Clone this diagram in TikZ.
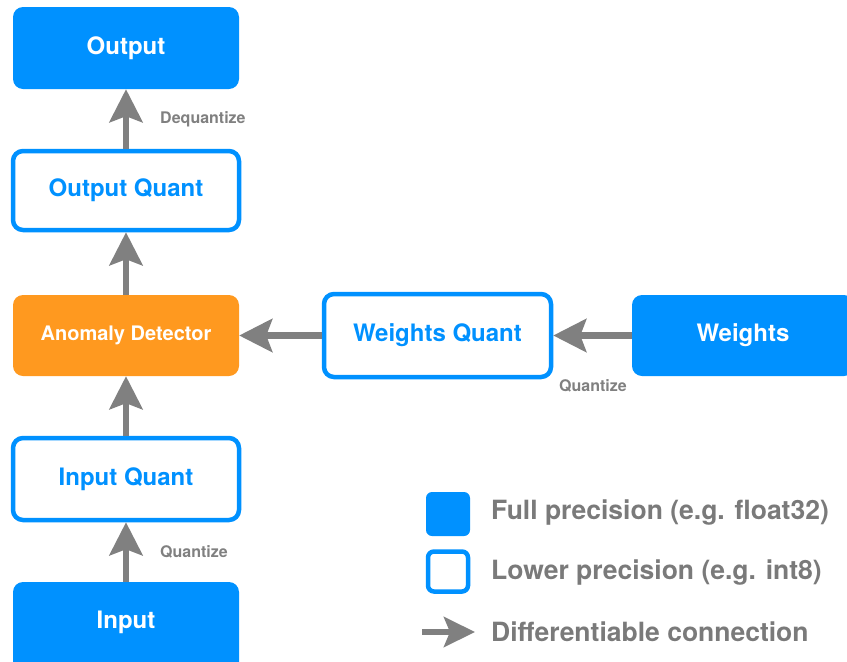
\documentclass[tikz,border=0pt]{standalone}
\usepackage{fontspec}
\setmainfont{TeX Gyre Heros}
\usetikzlibrary{arrows.meta}
\definecolor{fullblue}{RGB}{0,145,255}
\definecolor{anomorange}{RGB}{255,153,31}
\definecolor{arrgray}{RGB}{128,128,128}
\definecolor{txtgray}{RGB}{122,122,122}
\tikzset{
  x=1pt, y=1pt,
  fullbox/.style={fill=fullblue, draw=none, rounded corners=10pt, text=white,
    font=\fontsize{24}{28}\selectfont\bfseries, inner sep=0pt},
  lowbox/.style={fill=white, draw=fullblue, line width=4.5pt, rounded corners=10pt,
    text=fullblue, font=\fontsize{24}{28}\selectfont\bfseries, inner sep=0pt},
  anombox/.style={fill=anomorange, draw=none, rounded corners=10pt, text=white,
    font=\fontsize{20}{24}\selectfont\bfseries, inner sep=0pt},
  conn/.style={draw=arrgray, line width=6.5pt,
    -{Stealth[length=33pt, width=33pt, inset=6pt]}},
  edgelabel/.style={text=arrgray, font=\fontsize{16}{19}\selectfont\bfseries, inner sep=0pt},
  legendtext/.style={text=txtgray, font=\fontsize{26.5}{30}\selectfont\bfseries,
    inner sep=0pt, anchor=west}
}
\begin{document}
\begin{tikzpicture}
  \useasboundingbox (0,0) rectangle (847,-662);
  \clip (0,0) rectangle (847,-662);

  % main column
  \node[fullbox, minimum width=226pt, minimum height=82pt] (out) at (126,-48) {Output};
  \node[lowbox, minimum width=226pt, minimum height=79pt] (oq) at (126,-190.5) {Output Quant};
  \node[anombox, minimum width=226pt, minimum height=81pt] (anom) at (126,-335.5) {Anomaly Detector};
  \node[lowbox, minimum width=226pt, minimum height=82pt] (iq) at (126,-479) {Input Quant};
  \node[fullbox, minimum width=226pt, minimum height=118pt, text depth=0pt] (inp) at (126,-641) {};
  \node[text=white, font=\fontsize{24}{28}\selectfont\bfseries, inner sep=0pt] (inptext) at (126,-622) {Input};

  % weights branch
  \node[lowbox, minimum width=227pt, minimum height=83pt] (wq) at (437.5,-335.5) {Weights Quant};
  \node[fullbox, minimum width=222pt, minimum height=81pt] (wts) at (743,-335.5) {Weights};

  % connections
  \draw[conn] (oq.north) -- (out.south);
  \draw[conn] (anom.north) -- (oq.south);
  \draw[conn] (iq.north) -- (anom.south);
  \draw[conn] (inp.north) -- (iq.south);
  \draw[conn] (wq.west) -- (anom.east);
  \draw[conn] (wts.west) -- (wq.east);

  % connection labels
  \node[edgelabel, anchor=west] (deq) at (160,-119) {Dequantize};
  \node[edgelabel, anchor=west] (qin) at (160,-552) {Quantize};
  \node[edgelabel] (qw) at (593,-386) {Quantize};

  % legend
  \node[fill=fullblue, rounded corners=6pt, minimum size=44pt, inner sep=0pt] (lgfull) at (448,-514) {};
  \node[draw=fullblue, fill=white, line width=4.5pt, rounded corners=6pt, minimum size=40pt, inner sep=0pt] (lglow) at (448,-571.5) {};
  \coordinate (lga) at (422,-632);
  \coordinate (lgb) at (475,-632);
  \draw[draw=arrgray, line width=6pt, -{Stealth[length=31pt, width=30pt, inset=6pt]}] (lga) -- (lgb);
  \node[legendtext] (lt1) at (491,-513) {Full precision (e.g. float32)};
  \node[legendtext] (lt2) at (491,-573) {Lower precision (e.g. int8)};
  \node[legendtext] (lt3) at (491,-632) {Differentiable connection};
\end{tikzpicture}
\end{document}
